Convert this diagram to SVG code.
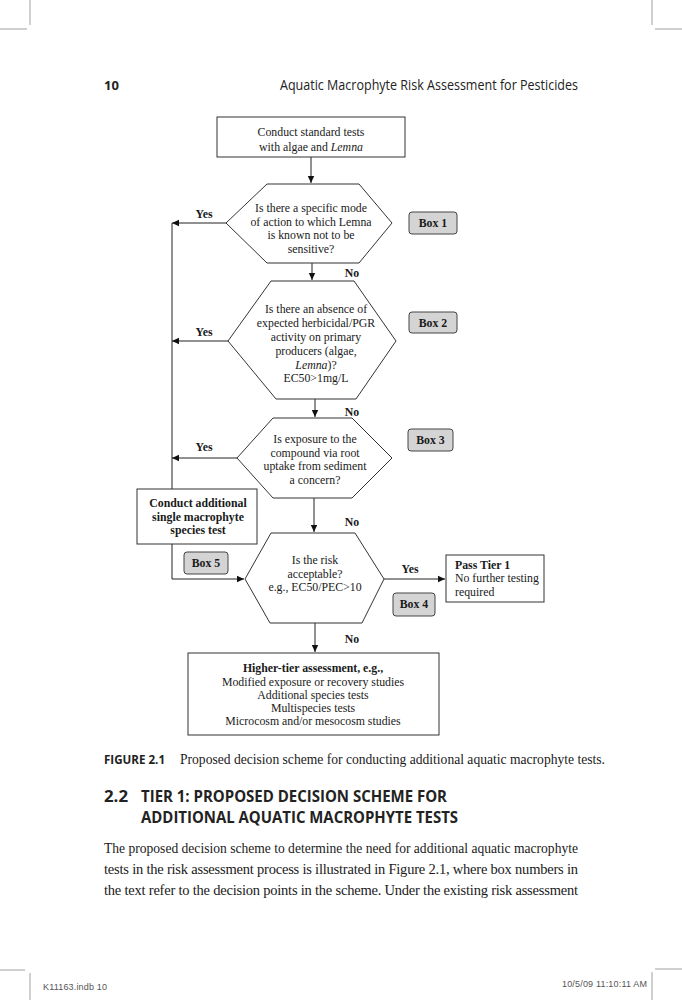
<svg xmlns="http://www.w3.org/2000/svg" width="682" height="1000" viewBox="0 0 682 1000">
<defs>
<marker id="ah" markerWidth="8" markerHeight="8" refX="7" refY="4" orient="auto" markerUnits="userSpaceOnUse">
<path d="M0,0.8 L7,4 L0,7.2 Z" fill="#111"/>
</marker>
<style>
.t{font-family:"Liberation Serif","Times New Roman",serif;font-size:11.8px;fill:#1a1a1a;text-anchor:middle}
.s{text-anchor:start}
.b{font-weight:bold}
.box{fill:#fff;stroke:#333;stroke-width:1}
.hex{fill:#fff;stroke:#333;stroke-width:1}
.tag{fill:#d4d4d4;stroke:#444;stroke-width:1}
.c{fill:none;stroke:#222;stroke-width:1}
.crop{stroke:#888;stroke-width:0.8;fill:none}
.hdr{font-family:"Open Sans","Liberation Sans",sans-serif;fill:#222}
.body{font-family:"Liberation Serif","Times New Roman",serif;font-size:14.5px;fill:#1a1a1a}
.foot{font-family:"Liberation Sans",Arial,sans-serif;font-size:9px;fill:#555}
</style>
</defs>
<rect width="682" height="1000" fill="#fff"/>
<g id="cropmarks">
<path class="crop" d="M30,0 V25 M0,29 H27 M652,0 V25 M655,29 H682 M0,970 H25 M30,973 V1000 M652,972 V1000 M655,969 H682"/>
</g>
<g id="header">
<text class="hdr" x="104" y="90" font-size="13" font-weight="bold">10</text>
<text class="hdr" x="280" y="90" font-size="14" textLength="298" lengthAdjust="spacingAndGlyphs">Aquatic Macrophyte Risk Assessment for Pesticides</text>
</g>
<g id="connectors">
<path class="c" d="M311,157 V183" marker-end="url(#ah)"/>
<path class="c" d="M226,223 H172" marker-end="url(#ah)"/>
<path class="c" d="M312,263 V280" marker-end="url(#ah)"/>
<path class="c" d="M228,341 H172" marker-end="url(#ah)"/>
<path class="c" d="M315,399 V417" marker-end="url(#ah)"/>
<path class="c" d="M237,458 H172" marker-end="url(#ah)"/>
<path class="c" d="M172,223 V489"/>
<path class="c" d="M314,498 V532" marker-end="url(#ah)"/>
<path class="c" d="M172,544 V579 H244" marker-end="url(#ah)"/>
<path class="c" d="M384,579 H445" marker-end="url(#ah)"/>
<path class="c" d="M315,623 V652" marker-end="url(#ah)"/>
<text class="t b" x="204" y="218">Yes</text>
<text class="t b" x="204" y="336">Yes</text>
<text class="t b" x="204" y="451">Yes</text>
<text class="t b" x="410" y="573">Yes</text>
<text class="t b" x="352" y="277">No</text>
<text class="t b" x="352" y="416">No</text>
<text class="t b" x="352" y="526">No</text>
<text class="t b" x="352" y="643">No</text>
</g>
<g id="start">
<rect class="box" x="217" y="117" width="188" height="40"/>
<text class="t" x="311" y="136">Conduct standard tests</text>
<text class="t" x="311" y="151">with algae and <tspan font-style="italic">Lemna</tspan></text>
</g>
<g id="q1">
<polygon class="hex" points="267,184 359,184 392,223 359,263 267,263 226,223"/>
<text class="t" x="311" y="212">Is there a specific mode</text>
<text class="t" x="311" y="225.5">of action to which Lemna</text>
<text class="t" x="311" y="239">is known not to be</text>
<text class="t" x="311" y="252.5">sensitive?</text>
</g>
<g id="box1">
<rect class="tag" x="409" y="212" width="48" height="22" rx="3"/>
<text class="t b" x="433" y="227">Box 1</text>
</g>
<g id="q2">
<polygon class="hex" points="271,281 354,281 396,341 356,399 276,399 228,341"/>
<text class="t" x="316" y="313">Is there an absence of</text>
<text class="t" x="316" y="327">expected herbicidal/PGR</text>
<text class="t" x="316" y="341">activity on primary</text>
<text class="t" x="316" y="355">producers (algae,</text>
<text class="t" x="316" y="368.5"><tspan font-style="italic">Lemna</tspan>)?</text>
<text class="t" x="316" y="382">EC50&gt;1mg/L</text>
</g>
<g id="box2">
<rect class="tag" x="409" y="312" width="48" height="21" rx="3"/>
<text class="t b" x="433" y="326.5">Box 2</text>
</g>
<g id="q3">
<polygon class="hex" points="273,418 352,418 392,458 352,498 273,498 237,458"/>
<text class="t" x="315" y="443">Is exposure to the</text>
<text class="t" x="315" y="456.5">compound via root</text>
<text class="t" x="315" y="470">uptake from sediment</text>
<text class="t" x="315" y="483.5">a concern?</text>
</g>
<g id="box3">
<rect class="tag" x="408" y="429" width="45" height="22" rx="3"/>
<text class="t b" x="430.5" y="444">Box 3</text>
</g>
<g id="additional">
<rect class="box" x="137" y="489" width="120" height="55"/>
<text class="t b" x="198" y="507">Conduct additional</text>
<text class="t b" x="198" y="521">single macrophyte</text>
<text class="t b" x="198" y="533.5">species test</text>
</g>
<g id="box5">
<rect class="tag" x="184" y="552" width="44" height="22" rx="3"/>
<text class="t b" x="206" y="567">Box 5</text>
</g>
<g id="q4">
<polygon class="hex" points="271,533 355,533 384,579 362,623 270,623 245,579"/>
<text class="t" x="315" y="564">Is the risk</text>
<text class="t" x="315" y="577.5">acceptable?</text>
<text class="t" x="315" y="591">e.g., EC50/PEC&gt;10</text>
</g>
<g id="pass">
<rect class="box" x="446" y="555" width="98" height="47"/>
<text class="t b s" x="455" y="569">Pass Tier 1</text>
<text class="t s" x="455" y="582">No further testing</text>
<text class="t s" x="455" y="596">required</text>
</g>
<g id="box4">
<rect class="tag" x="393" y="593" width="42" height="23" rx="3"/>
<text class="t b" x="414" y="608">Box 4</text>
</g>
<g id="higher">
<rect class="box" x="188" y="653" width="251" height="82"/>
<text class="t b" x="313" y="672">Higher-tier assessment, e.g.,</text>
<text class="t" x="313" y="686">Modified exposure or recovery studies</text>
<text class="t" x="313" y="699">Additional species tests</text>
<text class="t" x="313" y="712">Multispecies tests</text>
<text class="t" x="313" y="725">Microcosm and/or mesocosm studies</text>
</g>
<g id="caption">
<text class="hdr" x="104" y="764" font-size="11.5" font-weight="bold" textLength="61" lengthAdjust="spacingAndGlyphs">FIGURE 2.1</text>
<text class="body" x="180" y="764" font-size="12" textLength="425" lengthAdjust="spacingAndGlyphs">Proposed decision scheme for conducting additional aquatic macrophyte tests.</text>
</g>
<g id="heading">
<text class="hdr" x="104" y="802" font-size="16" font-weight="bold" textLength="24" lengthAdjust="spacingAndGlyphs">2.2</text>
<text class="hdr" x="141" y="802" font-size="16" font-weight="bold" textLength="306" lengthAdjust="spacingAndGlyphs">TIER 1: PROPOSED DECISION SCHEME FOR</text>
<text class="hdr" x="141" y="823" font-size="16" font-weight="bold" textLength="317" lengthAdjust="spacingAndGlyphs">ADDITIONAL AQUATIC MACROPHYTE TESTS</text>
</g>
<g id="paragraph">
<text class="body" x="104" y="853" textLength="474" lengthAdjust="spacingAndGlyphs">The proposed decision scheme to determine the need for additional aquatic macrophyte</text>
<text class="body" x="104" y="874" textLength="474" lengthAdjust="spacing">tests in the risk assessment process is illustrated in Figure 2.1, where box numbers in</text>
<text class="body" x="104" y="895" textLength="474" lengthAdjust="spacing">the text refer to the decision points in the scheme. Under the existing risk assessment</text>
</g>
<g id="footer">
<text class="foot" x="43" y="990" textLength="64" lengthAdjust="spacing">K11163.indb   10</text>
<text class="foot" x="562" y="987" textLength="85" lengthAdjust="spacing">10/5/09   11:10:11 AM</text>
</g>
</svg>
